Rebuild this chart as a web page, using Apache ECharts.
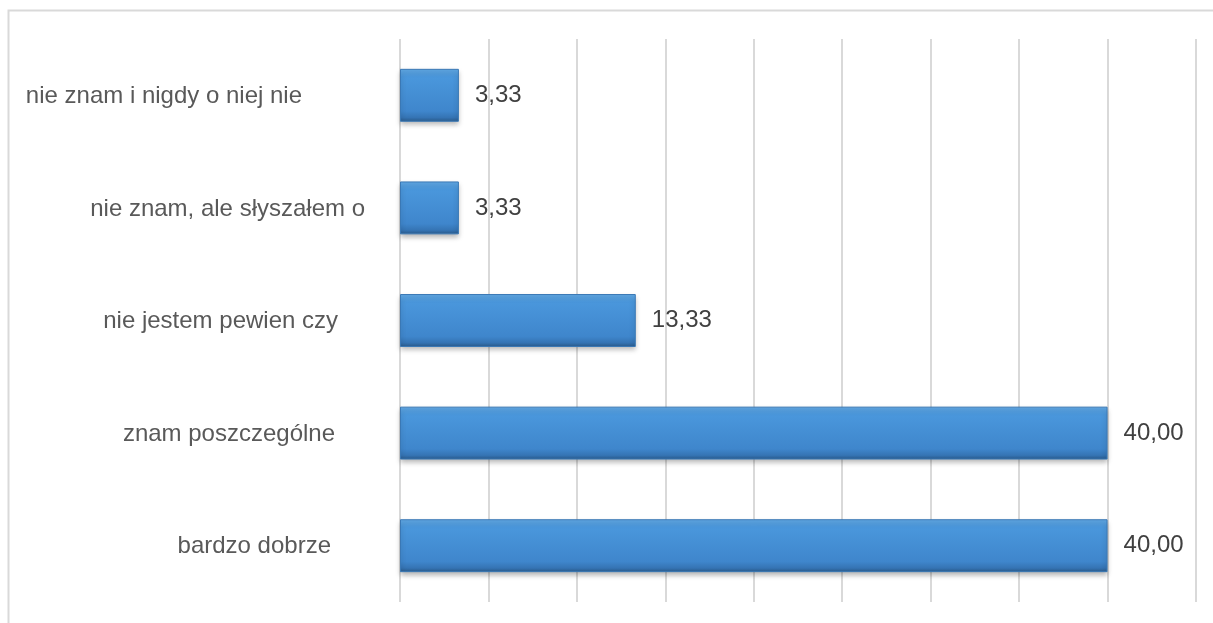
<!DOCTYPE html>
<html><head><meta charset="utf-8">
<script src="https://cdn.jsdelivr.net/npm/echarts@6/dist/echarts.min.js"></script>
<style>html,body{margin:0;padding:0;background:#fff;}#c{width:1213px;height:623px;}</style>
</head><body><div id="c"></div>
<script>
const categories = ["bardzo dobrze", "znam poszczególne", "nie jestem pewien czy", "nie znam, ale słyszałem o", "nie znam i nigdy o niej nie"];
const values = [40.00, 40.00, 13.33, 3.33, 3.33];
const labelGaps = [69, 65, 62, 35, 98];
const xTicks = [0, 5, 10, 15, 20, 25, 30, 35, 40, 45];

const rich = {};
categories.forEach((c, i) => { rich['l' + i] = { padding: [2, labelGaps[i] - 8, 0, 0], color: '#595959', fontSize: 24, fontFamily: 'Liberation Sans, Arial, sans-serif' }; });

const chart = echarts.init(document.getElementById('c'));
chart.setOption({
  animation: false,
  graphic: [{ type: 'rect', shape: { x: 8.5, y: 10.5, width: 1400, height: 800 }, style: { fill: 'none', stroke: '#d9d9d9', lineWidth: 2 }, silent: true, z: -10 }],
  grid: { left: 400, right: 17, top: 39, bottom: 21 },
  xAxis: {
    type: 'value', min: xTicks[0], max: xTicks[xTicks.length - 1], interval: 5,
    axisLabel: { show: false }, axisLine: { show: false }, axisTick: { show: false },
    splitLine: { show: true, lineStyle: { color: '#d9d9d9', width: 2 } }
  },
  yAxis: {
    type: 'category', data: categories,
    axisLine: { show: false }, axisTick: { show: false },
    axisLabel: {
      margin: 8,
      formatter: (v, i) => '{l' + i + '|' + v + '}',
      rich: rich
    }
  },
  series: [{
    type: 'bar', data: values, barWidth: '47%',
    itemStyle: {
      color: new echarts.graphic.LinearGradient(0, 0, 0, 1, [
        { offset: 0, color: '#62aae6' },
        { offset: 0.15, color: '#4a97dc' },
        { offset: 0.8, color: '#3f86cc' },
        { offset: 0.92, color: '#3574b4' },
        { offset: 1, color: '#2a5a8a' }
      ]),
      borderColor: '#3a78b5', borderWidth: 1,
      shadowColor: 'rgba(0,0,0,0.3)', shadowBlur: 5, shadowOffsetY: 3
    },
    label: {
      show: true, position: 'right', distance: 16, padding: [4, 0, 0, 0],
      color: '#404040', fontSize: 24, fontFamily: 'Liberation Sans, Arial, sans-serif',
      formatter: p => p.value.toFixed(2).replace('.', ',')
    }
  }]
});
</script></body></html>
